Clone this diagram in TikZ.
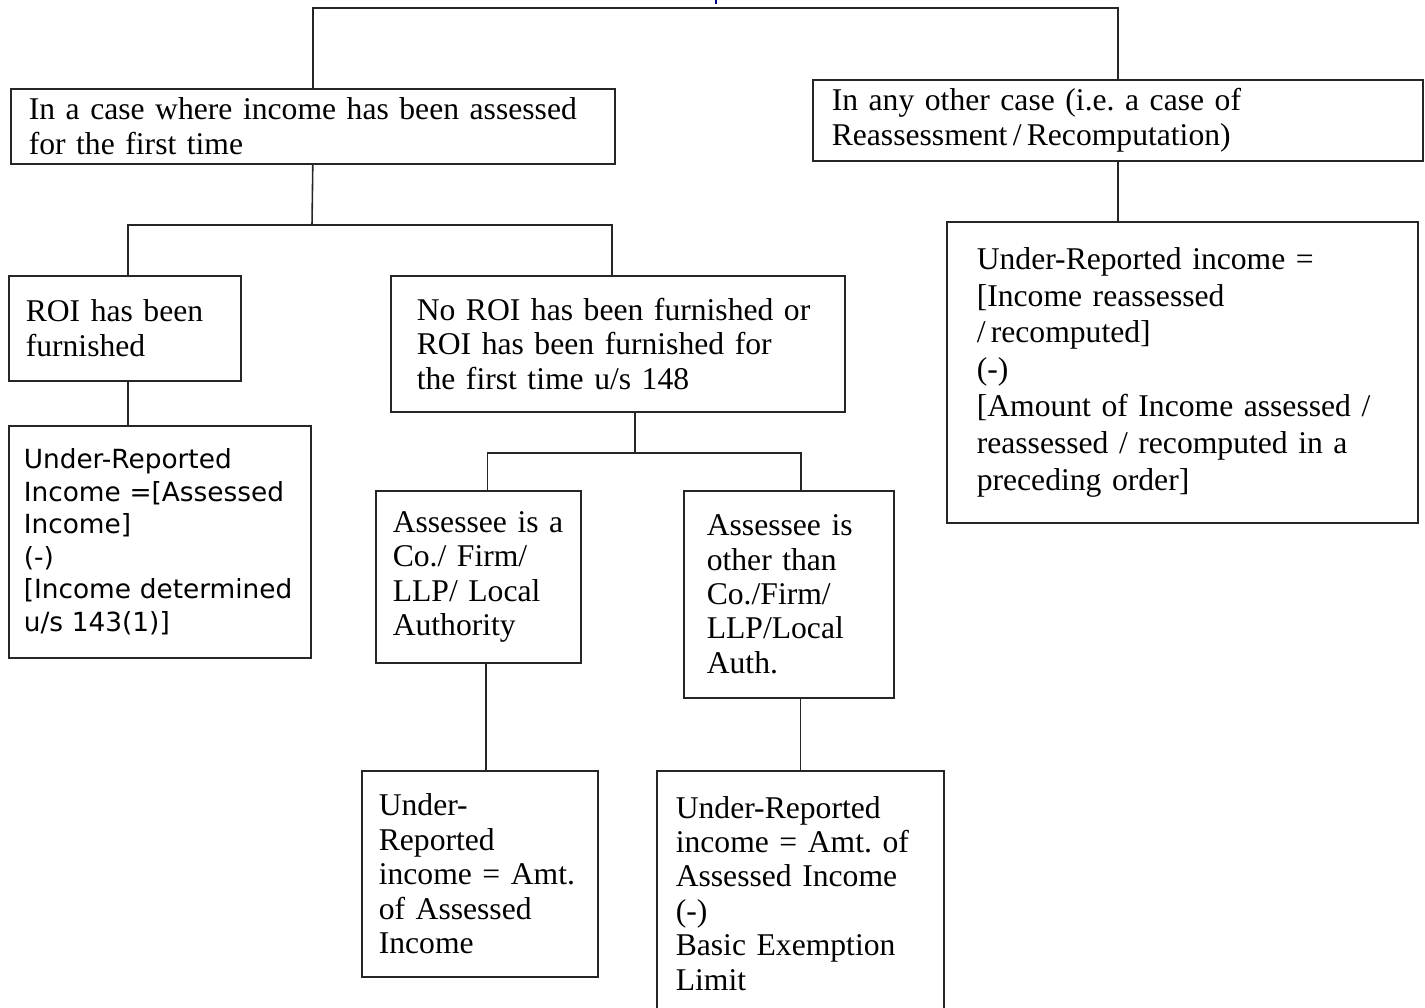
\documentclass[tikz,border=0pt]{standalone}
\usepackage{fontspec}
\setmainfont{Liberation Serif}
\newfontfamily\verdfont{DejaVu Sans}
\frenchspacing
\tikzset{
  box/.style={draw=black!85, line width=0.9pt, anchor=north west, align=left,
    inner ysep=0pt, font=\fontsize{18}{19.6}\selectfont},
  link/.style={draw=black!85, line width=0.9pt}
}
\begin{document}
\begin{tikzpicture}

    \clip (0,0) rectangle (28.5,-20.16);

    % Radice
    \coordinate (stem) at (14.32,0);
    \coordinate (root) at (14.32,-0.16);
    \draw[blue!55!black, line width=0.9pt] (stem) -- ++(0,-0.08);

    % Primo livello
    \node[box, minimum width=12.08cm, minimum height=1.5cm, inner xsep=0.36cm, text width=11.36cm]
      (first) at (0.2,-1.76) {In a case where income has been assessed\\for the first time};
    \node[box, minimum width=12.2cm, minimum height=1.62cm, inner xsep=0.38cm, text width=11.44cm]
      (other) at (16.24,-1.58) {In any other case (i.e. a case of\\Reassessment\,/\,Recomputation)};
    \draw[link] (first.north) |- (root) -| (other.north);

    % Caso di prima valutazione
    \node[box, minimum width=4.64cm, minimum height=2.1cm, inner xsep=0.34cm, text width=3.96cm]
      (roi) at (0.16,-5.5) {ROI has been\\furnished};
    \node[box, minimum width=9.08cm, minimum height=2.72cm, inner xsep=0.52cm, text width=8.04cm]
      (noroi) at (7.8,-5.5) {No ROI has been furnished or\\ROI has been furnished for\\the first time u/s 148};
    \coordinate (split1) at (6.24,-4.5);
    \draw[link] (first.south) -- (split1);
    \draw[link] ([xshift=0.06cm]roi.north) |- (split1) -| ([xshift=-0.12cm]noroi.north);

    \node[box, minimum width=6.04cm, minimum height=4.64cm, inner xsep=0.3cm, text width=5.44cm,
      font=\verdfont\fontsize{15}{18.5}\selectfont]
      (urroi) at (0.16,-8.5) {Under-Reported\\Income ={[}Assessed\\Income]\\(-)\\{[}Income determined\\u/s 143(1)]};
    \draw[link] ([xshift=0.06cm]roi.south) -- ([xshift=0.06cm]roi.south |- urroi.north);

    % Nessun ROI
    \node[box, minimum width=4.1cm, minimum height=3.44cm, inner xsep=0.34cm, text width=3.42cm]
      (firm) at (7.5,-9.8) {Assessee is a\\Co./ Firm/\\LLP/ Local\\Authority};
    \node[box, minimum width=4.2cm, minimum height=4.14cm, inner xsep=0.46cm, text width=3.28cm]
      (nonfirm) at (13.66,-9.8) {Assessee is\\other than\\Co./Firm/\\LLP/Local\\Auth.};
    \coordinate (split2) at (12.7,-9.06);
    \draw[link] (split2 |- noroi.south) -- (split2);
    \draw[link] ([xshift=0.18cm]firm.north) |- (split2) -| ([xshift=0.24cm]nonfirm.north);

    \node[box, minimum width=4.72cm, minimum height=4.12cm, inner xsep=0.34cm, text width=4.04cm]
      (urfirm) at (7.22,-15.4) {Under-\\Reported\\income = Amt.\\of Assessed\\Income};
    \node[box, minimum width=5.74cm, minimum height=4.9cm, inner xsep=0.38cm, text width=4.98cm]
      (urnonfirm) at (13.12,-15.4) {Under-Reported\\income = Amt. of\\Assessed Income\\(-)\\Basic Exemption\\Limit};
    \draw[link] ([xshift=0.12cm]urfirm.north) -- ([xshift=0.12cm]urfirm.north |- firm.south);
    \draw[link] (urnonfirm.north) -- (urnonfirm.north |- nonfirm.south);

    % Altro caso
    \node[box, minimum width=9.42cm, minimum height=6.02cm, inner xsep=0.6cm, text width=8.22cm,
      font=\fontsize{18}{21}\selectfont]
      (urother) at (18.92,-4.42) {Under-Reported income =\\{[}Income reassessed\\/\,recomputed]\\(-)\\{[}Amount of Income assessed /\\reassessed / recomputed in a\\preceding order]};
    \draw[link] (other.south) -- (other.south |- urother.north);

\end{tikzpicture}
\end{document}
